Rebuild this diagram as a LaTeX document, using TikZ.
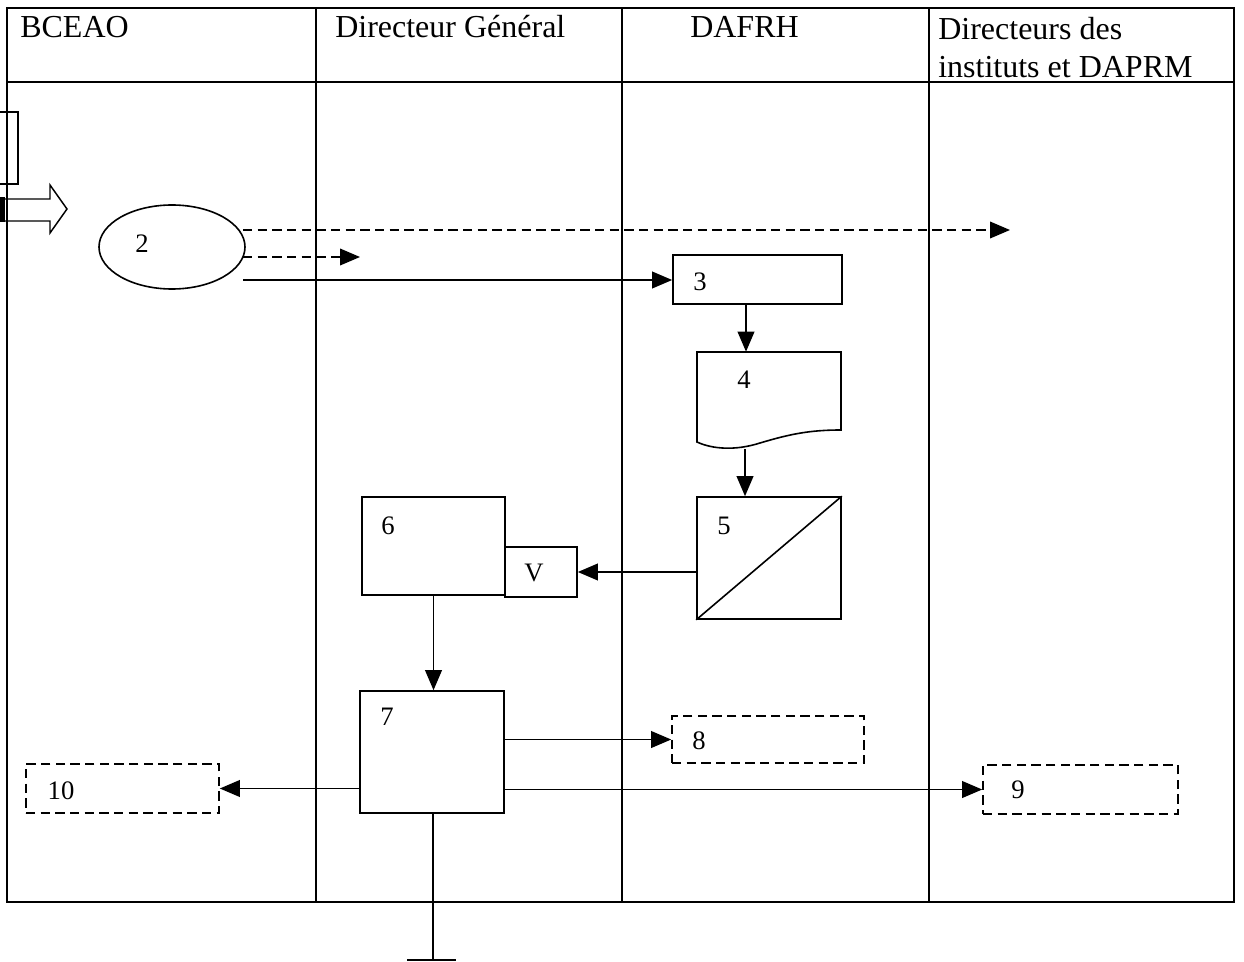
\documentclass[tikz,border=0pt]{standalone}
\usepackage{fontspec}
\setmainfont{Liberation Serif}
\usetikzlibrary{arrows.meta,shapes.geometric}
\begin{document}
\begin{tikzpicture}[x=0.75pt,y=-0.75pt,
  tline/.style={line width=1.0pt},
  bx/.style 2 args={draw, line width=1.2pt, inner sep=0pt, minimum width=#1*0.75pt, minimum height=#2*0.75pt},
  ghost/.style 2 args={inner sep=0pt, minimum width=#1*0.75pt, minimum height=#2*0.75pt},
  dsh/.style={dash pattern=on 7pt off 4pt},
  arr/.style={line width=1.2pt, -{Triangle[length=15pt,width=12.5pt]}},
  hd/.style={anchor=base west, inner sep=0pt, font=\fontsize{24}{28}\selectfont},
  lbl/.style={inner sep=0pt, font=\fontsize{20}{24}\selectfont}]
\useasboundingbox (0,0) rectangle (1244,962);
% table
\draw[tline] (7,8) rectangle (1234,902);
\draw[tline] (7,82) -- (1234,82);
\draw[tline] (316,8) -- (316,902);
\draw[tline] (622,8) -- (622,902);
\draw[tline] (929,8) -- (929,902);
\node[hd] (h1) at (20,38) {BCEAO};
\node[hd] (h2) at (335,38) {Directeur Général};
\node[hd] (h3) at (690,38) {DAFRH};
\node[hd] (h4a) at (938,40) {Directeurs des};
\node[hd] (h4b) at (938,78) {instituts et DAPRM};
% left partial box and fat arrow
\draw[line width=1.2pt] (0,112) -- (18,112) -- (18,184) -- (0,184);
\draw[line width=1.1pt] (0,199) -- (50,199) -- (50,185) -- (67,209) -- (50,233) -- (50,221) -- (0,221);
\fill (0,197) rectangle (5,222);
% nodes
\node[ellipse, draw, line width=1.2pt, inner sep=0pt, minimum width=146*0.75pt, minimum height=84*0.75pt] (e2) at (172,247) {};
\node[lbl] (t2) at (142,244) {2};
\node[bx={169}{49}] (b3) at (757.5,279.5) {};
\node[lbl] (t3) at (700,282) {3};
\node[ghost={144}{97}] (b4) at (769,400.5) {};
\draw[line width=1.2pt] (697,442) -- (697,352) -- (841,352) -- (841,430)
  .. controls (810,430) and (790,434) .. (760,443)
  .. controls (735,451) and (712,449) .. (697,442) -- cycle;
\node[lbl] (t4) at (744,380) {4};
\node[bx={144}{122}] (b5) at (769,558) {};
\draw[line width=1.2pt] (b5.south west) -- (b5.north east);
\node[lbl] (t5) at (724,526) {5};
\node[bx={143}{98}] (b6) at (433.5,546) {};
\node[lbl] (t6) at (388,526) {6};
\node[bx={72}{50}] (bv) at (541,572) {};
\node[lbl] (tv) at (534,573) {V};
\node[bx={144}{122}] (b7) at (432,752) {};
\node[lbl] (t7) at (387,717) {7};
\node[bx={192}{47}, dsh] (b8) at (768,739.5) {};
\node[lbl] (t8) at (699,741) {8};
\node[bx={195}{49}, dsh] (b9) at (1080.5,789.5) {};
\node[lbl] (t9) at (1018,790) {9};
\node[bx={193}{49}, dsh] (b10) at (122.5,788.5) {};
\node[lbl] (t10) at (61,791) {10};
% coordinates
\coordinate (s1) at (243,230);
\coordinate (e1) at (1010,230);
\coordinate (s2) at (243,257);
\coordinate (e2end) at (360,257);
\coordinate (s3) at (243,280);
\coordinate (c34) at (746,0);
\coordinate (c45) at (745,0);
\coordinate (g1) at (433,960);
\coordinate (g2) at (407,960);
\coordinate (g3) at (456,960);
% connectors
\draw[arr, dsh] (s1) -- (e1);
\draw[arr, dsh] (s2) -- (e2end);
\draw[arr] (s3) -- (b3.west |- s3);
\draw[arr] (b3.south -| c34) -- (b4.north -| c34);
\draw[arr] (b4.south -| c45) -- (b5.north -| c45);
\draw[arr] (b5.west |- bv.east) -- (bv.east);
\draw[arr] (b6.south) -- (b6.south |- b7.north);
\draw[arr] (b7.east |- b8.west) -- (b8.west);
\draw[arr] (b7.east |- b9.west) -- (b9.west);
\draw[arr] (b7.west |- b10.east) -- (b10.east);
\draw[line width=1.2pt] (b7.south -| g1) -- (g1);
\draw[line width=1.2pt] (g2) -- (g3);
\end{tikzpicture}
\end{document}
